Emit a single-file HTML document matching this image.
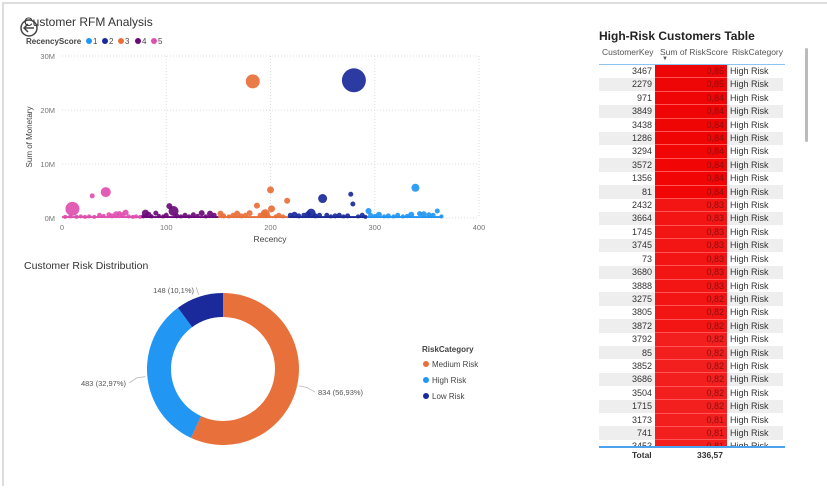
<!DOCTYPE html>
<html><head><meta charset="utf-8">
<style>
body{margin:0;width:827px;height:502px;background:#fff;font-family:"Liberation Sans",sans-serif;overflow:hidden;position:relative}
.frame{position:absolute;left:2px;top:2px;width:830px;height:482px;border-top:2px solid #ddd;border-left:2px solid #ddd}
.t{position:absolute;white-space:nowrap}
table{border-collapse:collapse;font-size:9px;color:#333}
td{height:12.4px;padding:0 3px;line-height:12.4px;border-bottom:1px solid transparent}
</style></head><body>
<div class="frame"></div>
<svg width="827" height="502" style="position:absolute;left:0;top:0" id="svg">
<g><circle cx="29" cy="28" r="8" fill="none" stroke="#444" stroke-width="1.5"/><path d="M25 28h9M28 24l-4 4 4 4" fill="none" stroke="#444" stroke-width="1.5"/></g>
<text x="24" y="26" font-size="12" fill="#333">Customer RFM Analysis</text>
<g font-size="8" fill="#444">
<text x="26" y="44" font-weight="bold">RecencyScore</text>
<circle cx="89" cy="41" r="3" fill="#2196f3"/><text x="93" y="44">1</text>
<circle cx="105" cy="41" r="3" fill="#1a2a9a"/><text x="109" y="44">2</text>
<circle cx="121" cy="41" r="3" fill="#e8703a"/><text x="125" y="44">3</text>
<circle cx="138" cy="41" r="3" fill="#6a0a7a"/><text x="142" y="44">4</text>
<circle cx="154" cy="41" r="3" fill="#e04fb0"/><text x="158" y="44">5</text>
</g>
<g id="scatter"></g>
<text x="24" y="269" font-size="10.5" fill="#333">Customer Risk Distribution</text>
<g id="donut"></g>
<g font-size="8" fill="#444">
<text x="422" y="352" font-weight="bold">RiskCategory</text>
<circle cx="426" cy="364" r="3" fill="#e8703a"/><text x="432" y="367">Medium Risk</text>
<circle cx="426" cy="380" r="3" fill="#2196f3"/><text x="432" y="383">High Risk</text>
<circle cx="426" cy="396" r="3" fill="#1a2a9a"/><text x="432" y="399">Low Risk</text>
</g>
<text x="599" y="40" font-size="12" font-weight="bold" fill="#222">High-Risk Customers Table</text>
<rect x="805" y="48" width="3" height="94" rx="1.5" fill="#bbb"/>
</svg>
<div class="t" style="left:600px;top:47px;font-size:8.5px;color:#555">
<span style="position:absolute;left:2px">CustomerKey</span>
<span style="position:absolute;left:60px">Sum of RiskScore</span>
<span style="position:absolute;left:62px;top:9px;font-size:6px">▼</span>
<span style="position:absolute;left:132px">RiskCategory</span>
</div>
<div style="position:absolute;left:599px;top:64px;width:186px;height:382px;overflow:hidden;border-top:1px solid #8ec3f0">
<table id="tbl"></table></div>
<div style="position:absolute;left:599px;top:446px;width:186px;border-top:2px solid #4aa3ee"></div>
<div class="t" style="left:632px;top:450px;font-size:8.5px;font-weight:bold;color:#333">Total</div>
<div class="t" style="left:697px;top:450px;font-size:8.5px;font-weight:bold;color:#333">336,57</div>
<script>
const NS="http://www.w3.org/2000/svg";
const recency=[280,183,10,42,29,200,201,187,216,250,277,279,339,294,360,103,107,80,90,134,239,195,
3,8,14,18,22,26,31,36,40,45,48,52,55,58,61,64,68,71,75,78,83,86,93,97,100,110,114,118,122,126,130,138,142,146,
152,155,160,164,168,172,176,180,190,194,198,205,208,212,219,223,227,232,236,243,247,254,258,262,266,270,274,284,288,291,
296,300,304,309,313,318,322,327,331,335,343,347,352,356,364];
const monetary=[25.5,25.3,1.7,4.8,4.1,5.2,1.7,2.3,3.2,3.6,4.4,2.6,5.6,1.3,1.3,2.2,1.3,0.9,0.9,0.9,0.9,0.8,
0.2,0.3,0.2,0.3,0.2,0.3,0.2,0.5,0.4,0.6,0.4,0.7,0.8,0.6,1.0,0.3,0.2,0.3,0.2,0.3,0.6,0.3,0.4,0.3,0.5,0.4,0.3,0.5,0.3,0.6,0.4,0.3,0.8,0.5,
0.8,0.4,0.3,0.5,0.8,0.4,0.5,0.9,0.5,0.8,0.4,0.3,0.5,0.3,0.5,0.6,0.4,0.5,0.7,0.4,0.5,0.5,0.3,0.4,0.5,0.3,0.4,0.3,0.5,0.2,
0.5,0.4,0.6,0.3,0.4,0.3,0.5,0.3,0.4,0.6,0.8,0.7,0.6,0.5,0.3];
const bubble=[12,7,7,5,2.5,3.5,3.5,3,3,4.5,2.5,2.5,4,3,2.5,3,5,3.5,2.5,3,4.5,4.5,
2,2,2,2,2,2,2,2.5,2,2.5,2.5,3,2.5,2.5,3,2,2,2,2,2,3,2,2,2,2.5,2.5,2,2.5,2,2.5,2,2,3,2.5,
3,2.5,2,2.5,3,2.5,2.5,3,2.5,3,2,2,2.5,2,2.5,3,2.5,2.5,3,2.5,2.5,2.5,2,2.5,2.5,2,2.5,2,2.5,2,
2.5,2,3,2,2.5,2,2.5,2,2,3,2.5,3,2.5,2.5,2];
const xTicks=[0,100,200,300,400], yTicks=[0,10,20,30];
const X=v=>62+v*(479-62)/400, Y=v=>218-v*(218-56)/30;
const col=r=>r<77?"#e04fb0":r<150?"#6a0a7a":r<217?"#e8703a":r<292?"#1a2a9a":"#2196f3";
const sc=document.getElementById("scatter");
function mk(tag,a,p){const e=document.createElementNS(NS,tag);for(const k in a)e.setAttribute(k,a[k]);(p||sc).appendChild(e);return e;}
yTicks.forEach(v=>{
 const l=mk("line",{x1:62,x2:479,y1:Y(v),y2:Y(v),stroke:"#ddd","stroke-dasharray":"1,2"});
 
 
 const t=mk("text",{x:55,y:Y(v)+3,"font-size":7.5,fill:"#777","text-anchor":"end"});t.textContent=v+"M";
 
 
});
xTicks.forEach(v=>{
 if(v>0){const l=mk("line",{x1:X(v),x2:X(v),y1:56,y2:218,stroke:"#ddd","stroke-dasharray":"1,2"});
 
 }
 const t=mk("text",{x:X(v),y:230,"font-size":7.5,fill:"#777","text-anchor":"middle"});t.textContent=v;
 
 
});
let t=mk("text",{x:270,y:242,"font-size":8.5,fill:"#444","text-anchor":"middle"});t.textContent="Recency";


t=mk("text",{x:0,y:0,"font-size":8,fill:"#444","text-anchor":"middle",transform:"translate(32,137) rotate(-90)"});t.textContent="Sum of Monetary";


const band=[[0,77],[77,150],[150,217],[217,292],[292,365]];
band.forEach(b=>{const r=mk("rect",{x:X(b[0]),y:Y(0.35),width:X(b[1])-X(b[0]),height:Y(0)-Y(0.35),fill:col(b[0]+1)});
 
 });
recency.forEach((r,i)=>{
 const c=mk("circle",{cx:X(r),cy:Y(monetary[i]),r:bubble[i],fill:col(r),"fill-opacity":0.92});
 
 
});
const cats=["Medium Risk","High Risk","Low Risk"], counts=[834,483,148], pcts=["56,93%","32,97%","10,1%"];
const dcol=["#e8703a","#2196f3","#1a2a9a"];
const dg=document.getElementById("donut");
const cx=223,cy=369,R=76,r0=52,tot=counts.reduce((a,b)=>a+b,0);
let a0=-Math.PI/2;
const lbl=[[318,395,"start"],[126,386,"end"],[194,293,"end"]];
counts.forEach((v,i)=>{
 const a1=a0+v/tot*2*Math.PI,lg=(a1-a0)>Math.PI?1:0;
 const p=(a,rr)=>[cx+rr*Math.cos(a),cy+rr*Math.sin(a)];
 const [x1,y1]=p(a0,R),[x2,y2]=p(a1,R),[x3,y3]=p(a1,r0),[x4,y4]=p(a0,r0);
 const s=mk("path",{d:`M${x1} ${y1}A${R} ${R} 0 ${lg} 1 ${x2} ${y2}L${x3} ${y3}A${r0} ${r0} 0 ${lg} 0 ${x4} ${y4}Z`,fill:dcol[i]},dg);
 
 
 const am=(a0+a1)/2,[lx,ly]=p(am,R+2),[mx,my]=p(am,R+10);
 mk("path",{d:`M${lx} ${ly}L${mx} ${my}L${lbl[i][0]+(lbl[i][2]=="start"?-3:3)} ${lbl[i][1]-3}`,stroke:"#aaa",fill:"none","stroke-width":0.7},dg);
 const tx=mk("text",{x:lbl[i][0],y:lbl[i][1],"font-size":7.5,fill:"#555","text-anchor":lbl[i][2]},dg);
 tx.textContent=counts[i]+" ("+pcts[i]+")";
 
 
 a0=a1;
});
const keys=[3467,2279,971,3849,3438,1286,3294,3572,1356,81,2432,3664,1745,3745,73,3680,3888,3275,3805,3872,3792,85,3852,3686,3504,1715,3173,741,3453];
const scores=["0,85","0,85","0,84","0,84","0,84","0,84","0,84","0,84","0,84","0,84","0,83","0,83","0,83","0,83","0,83","0,83","0,83","0,82","0,82","0,82","0,82","0,82","0,82","0,82","0,82","0,82","0,81","0,81","0,81"];
const tb=document.getElementById("tbl");
keys.forEach((k,i)=>{
 const tr=document.createElement("tr");
 
 
 const bg=i%2?"#eee":"#fff";
 const red=`rgb(${238+Math.min(i,10)*0.5|0},${i<10?5:i<20?20:30},${i<10?5:i<20?20:30})`;
 tr.innerHTML=`<td style="width:50px;text-align:right;background:${bg}">${k}</td><td style="width:66px;text-align:right;background:${red};color:#8a1010;border-bottom:1px solid #f55">${scores[i]}</td><td style="width:50px;background:${bg}">High Risk</td>`;
 tb.appendChild(tr);
});
</script>
</body></html>
